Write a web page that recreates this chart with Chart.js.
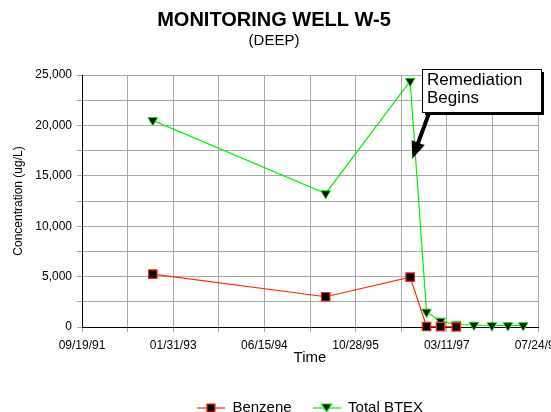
<!DOCTYPE html>
<html>
<head>
<meta charset="utf-8">
<title>Monitoring Well W-5</title>
<script src="https://cdn.jsdelivr.net/npm/chart.js@4.4.1/dist/chart.umd.min.js"></script>
<style>
  html, body { margin: 0; padding: 0; background: #fff; }
  canvas { display: block; }
</style>
</head>
<body>
<canvas id="wellChart" width="551" height="412"></canvas>
<script>
// Sampling dates and concentrations (ug/L)
const benzeneDates = ['1992-10-11', '1995-05-17', '1996-08-22', '1996-11-20', '1997-02-05', '1997-05-02'];
const benzeneValues = [5250, 3000, 4950, 50, 30, 20];

const btexDates = ['1992-10-11', '1995-05-17', '1996-08-22', '1996-11-20', '1997-02-05', '1997-05-02',
                   '1997-08-07', '1997-11-13', '1998-02-09', '1998-05-04'];
const btexValues = [20500, 13250, 24400, 1500, 600, 250, 200, 150, 150, 150];

// Date axis runs 2500 days, gridline every 250, label every 500
const axisStart = '1991-09-19';
const axisEnd = '1998-07-24';
const xTickLabels = ['09/19/91', '01/31/93', '06/15/94', '10/28/95', '03/11/97', '07/24/98'];
const yTickLabels = ['0', '5,000', '10,000', '15,000', '20,000', '25,000'];

// Callout
const remediationText = ['Remediation', 'Begins'];
const remediationDate = '1996-09-03';
const remediationValue = 16700;

const RED = '#FF2A00';
const GREEN = '#00F000';

Chart.defaults.font.family = "'Liberation Sans', Arial, sans-serif";
Chart.defaults.color = '#000';

// Excel style day number, so the axis can be linear in days
function toSerial(iso) {
    const parts = iso.split('-').map(Number);
    return Date.UTC(parts[0], parts[1] - 1, parts[2]) / 86400000 + 25569;
}

function toPoints(dates, values) {
    return dates.map((d, i) => ({ x: toSerial(d), y: values[i] }));
}

// Small line + marker picture for the legend
function makeLegendIcon(color, shape) {
    const c = document.createElement('canvas');
    c.width = 28;
    c.height = 12;
    const g = c.getContext('2d');
    g.strokeStyle = color;
    g.globalAlpha = 0.6;
    g.lineWidth = 2;
    g.beginPath();
    g.moveTo(0, 6);
    g.lineTo(28, 6);
    g.stroke();
    g.globalAlpha = 1;
    g.fillStyle = '#000';
    g.lineWidth = 1.2;
    if (shape === 'square') {
        g.fillRect(10, 2, 8, 8);
        g.strokeRect(10, 2, 8, 8);
    } else {
        g.beginPath();
        g.moveTo(9, 2);
        g.lineTo(19, 2);
        g.lineTo(14, 10);
        g.closePath();
        g.fill();
        g.stroke();
    }
    return c;
}

const legendIcons = [makeLegendIcon(RED, 'square'), makeLegendIcon(GREEN, 'triangle')];

// Text box with shadow and a thick arrow pointing at the drop
const remediationCallout = {
    id: 'remediationCallout',
    afterDatasetsDraw(chart) {
        const { ctx, scales: { x, y } } = chart;
        const tipX = x.getPixelForValue(toSerial(remediationDate));
        const tipY = y.getPixelForValue(remediationValue);
        const boxX = Math.round(tipX + 10);
        const boxY = Math.round(tipY - 90);
        const boxW = 119;
        const boxH = 43;

        ctx.save();
        ctx.fillStyle = '#000';
        ctx.fillRect(boxX + 3, boxY + 3, boxW, boxH);
        ctx.fillStyle = '#fff';
        ctx.fillRect(boxX, boxY, boxW, boxH);
        ctx.strokeStyle = '#000';
        ctx.lineWidth = 1;
        ctx.strokeRect(boxX + 0.5, boxY + 0.5, boxW, boxH);

        ctx.fillStyle = '#000';
        ctx.font = "17px 'Liberation Sans', Arial, sans-serif";
        ctx.textBaseline = 'alphabetic';
        ctx.fillText(remediationText[0], boxX + 5, boxY + 16);
        ctx.fillText(remediationText[1], boxX + 5, boxY + 34);

        // arrow
        const tailX = tipX + 16.5;
        const tailY = tipY - 45;
        const dx = tipX - tailX;
        const dy = tipY - tailY;
        const len = Math.sqrt(dx * dx + dy * dy);
        const ux = dx / len, uy = dy / len;
        const nx = -uy, ny = ux;
        const headLen = 17, headHalf = 7, shaftHalf = 2;
        const bx = tipX - ux * headLen, by = tipY - uy * headLen;
        ctx.beginPath();
        ctx.moveTo(tailX + nx * shaftHalf, tailY + ny * shaftHalf);
        ctx.lineTo(bx + nx * shaftHalf, by + ny * shaftHalf);
        ctx.lineTo(bx + nx * headHalf, by + ny * headHalf);
        ctx.lineTo(tipX, tipY);
        ctx.lineTo(bx - nx * headHalf, by - ny * headHalf);
        ctx.lineTo(bx - nx * shaftHalf, by - ny * shaftHalf);
        ctx.lineTo(tailX - nx * shaftHalf, tailY - ny * shaftHalf);
        ctx.closePath();
        ctx.fill();
        ctx.restore();
    }
};

const ctx = document.getElementById('wellChart').getContext('2d');

new Chart(ctx, {
    type: 'line',
    data: {
        datasets: [{
            label: 'Benzene',
            data: toPoints(benzeneDates, benzeneValues),
            borderColor: RED,
            borderWidth: 1.2,
            pointStyle: 'rect',
            pointRadius: 6,
            pointBackgroundColor: '#000',
            pointBorderColor: RED,
            pointBorderWidth: 1.2,
            tension: 0,
            clip: false
        }, {
            label: 'Total BTEX',
            data: toPoints(btexDates, btexValues),
            borderColor: GREEN,
            borderWidth: 1.2,
            pointStyle: 'triangle',
            pointRotation: 180,
            pointRadius: 5.5,
            pointBackgroundColor: '#000',
            pointBorderColor: GREEN,
            pointBorderWidth: 1,
            tension: 0,
            clip: false
        }]
    },
    options: {
        responsive: false,
        animation: false,
        devicePixelRatio: 1,
        layout: {
            padding: { left: 10, right: 13, top: 0, bottom: -13.5 }
        },
        scales: {
            x: {
                type: 'linear',
                min: toSerial(axisStart),
                max: toSerial(axisEnd),
                ticks: {
                    stepSize: 250,
                    autoSkip: false,
                    maxRotation: 0,
                    padding: 6,
                    font: { size: 12 },
                    callback: (value, index) => index % 2 === 0 ? xTickLabels[index / 2] : ''
                },
                grid: { color: '#a8a8a8', tickColor: '#a8a8a8', tickLength: 5 },
                border: { color: '#000', width: 1 },
                title: {
                    display: true,
                    text: 'Time',
                    font: { size: 15 },
                    padding: { top: 0, bottom: 13 }
                },
                afterFit(scale) {
                    scale.height = 52.5;
                    scale.paddingLeft = 0;
                    scale.paddingRight = 0;
                }
            },
            y: {
                min: 0,
                max: 25000,
                ticks: {
                    stepSize: 2500,
                    padding: 5,
                    font: { size: 12 },
                    callback: (value, index) => index % 2 === 0 ? yTickLabels[index / 2] : ''
                },
                grid: { color: '#a8a8a8', tickColor: '#a8a8a8', tickLength: 5 },
                border: { color: '#000', width: 1 },
                title: {
                    display: true,
                    text: 'Concentration (ug/L)',
                    font: { size: 12 },
                    padding: { top: 1, bottom: 0 }
                },
                afterFit(scale) {
                    scale.width = 72;
                    scale.paddingTop = 0;
                    scale.paddingBottom = 0;
                }
            }
        },
        plugins: {
            title: {
                display: true,
                text: 'MONITORING WELL W-5',
                font: { size: 20, weight: 'bold' },
                padding: { top: 8, bottom: 0 }
            },
            subtitle: {
                display: true,
                text: '(DEEP)',
                font: { size: 15 },
                padding: { top: 0, bottom: 25 }
            },
            legend: {
                position: 'bottom',
                fullSize: false,
                labels: {
                    usePointStyle: true,
                    pointStyleWidth: 28,
                    padding: 21,
                    font: { size: 15 },
                    generateLabels(chart) {
                        const items = Chart.defaults.plugins.legend.labels.generateLabels(chart);
                        items.forEach((item, i) => {
                            item.pointStyle = legendIcons[i];
                            item.rotation = 0;
                        });
                        return items;
                    }
                }
            },
            tooltip: { enabled: false }
        }
    },
    plugins: [remediationCallout]
});
</script>
</body>
</html>
